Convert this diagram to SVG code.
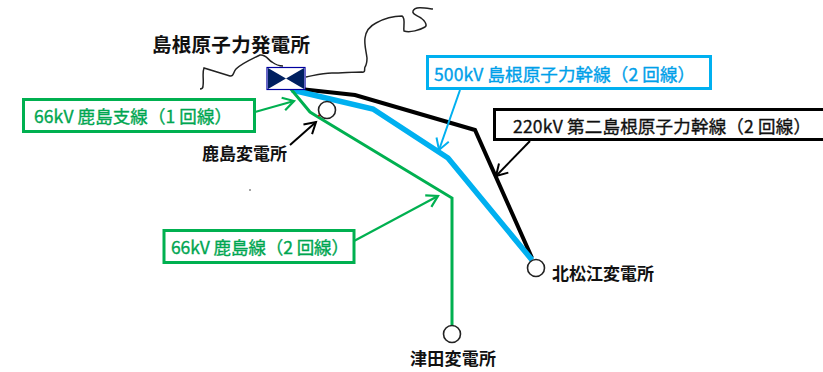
<svg xmlns="http://www.w3.org/2000/svg" width="823" height="372" viewBox="0 0 823 372">
<style>
text{font-family:"Noto Sans CJK JP","Liberation Sans",sans-serif;dominant-baseline:central}
.n{font-weight:700;font-size:17px;fill:#111}
.l{font-size:17.500px;stroke-width:.35}
.box{fill:#fff;stroke-width:3}
.g{stroke:#00B050;fill:none}
.bl{stroke:#00B0F0;fill:none}
.k{stroke:#000;fill:none}
.st{fill:#fff;stroke:#222;stroke-width:1.6}
</style>
<defs>
<marker id="ag" markerUnits="userSpaceOnUse" markerWidth="18" markerHeight="18" refX="15" refY="9" orient="auto"><path d="M4 2.500L15 9L4 15.500" fill="none" stroke="#00B050" stroke-width="2.200"/></marker>
<marker id="ab" markerUnits="userSpaceOnUse" markerWidth="18" markerHeight="18" refX="15" refY="9" orient="auto"><path d="M4 2.500L15 9L4 15.500" fill="none" stroke="#00B0F0" stroke-width="2"/></marker>
<marker id="ak" markerUnits="userSpaceOnUse" markerWidth="18" markerHeight="18" refX="15" refY="9" orient="auto"><path d="M4 2.500L15 9L4 15.500" fill="none" stroke="#000" stroke-width="2"/></marker>
</defs>
<g id="coast" fill="none" stroke="#222" stroke-width="1.500">
<path d="M200 89C202 89 203 88 203 86C204 80 202 73 204 68L230 76C234 77 233 72 236 69C242 63 252 59 260 55C266 54 268 60 272 62C276 65 280 66 283 66"/>
<path d="M306 77C316 75 322 73 332 73C342 73 352 72 362 72C366 73 364 68 365 67C367 64 367 62 367 58C366 50 364 44 365 38C366 30 370 26 376 23C385 18 395 16 402 16C406 18 403 28 404 31C410 33 420 30 425 27C428 25 424 20 421 18C416 15 412 14 413 11C415 6 425 8 433 9"/>
</g>
<g id="connectors">
<path class="k" stroke-width="4" d="M300 89L355 95L475 130L532 258"/>
<path class="bl" stroke-width="5.500" d="M292 90L373 109L448 158L532 260"/>
<path class="g" stroke-width="3" d="M290 88L300 100L310 112L318 117L452 198L452 327"/>
<path class="g" stroke-width="2.200" d="M255 112L294 101" marker-end="url(#ag)"/>
<path class="g" stroke-width="2.200" d="M354 241L438 196" marker-end="url(#ag)"/>
<path class="bl" stroke-width="2" d="M460 90L439 150" marker-end="url(#ab)"/>
<path class="k" stroke-width="2" d="M530 141L496 176" marker-end="url(#ak)"/>
<path class="k" stroke-width="2" d="M290 145L316 122" marker-end="url(#ak)"/>
</g>
<g id="plant">
<rect x="267" y="67.500" width="38" height="22" fill="#fff" stroke="#0000A0" stroke-width="1.200"/>
<path d="M268 68L286 78.500L268 89ZM304 68L286 78.500L304 89Z" fill="#002060"/>
<text class="n" x="152" y="43" style="font-size:19.500px" textLength="158">島根原子力発電所</text>
</g>
<g id="kashima-ss"><circle class="st" cx="327" cy="110" r="8.500"/><circle cx="319" cy="115.500" r="1" fill="#C00000"/><text class="n" x="202" y="152" textLength="85">鹿島変電所</text></g>
<g id="kitamatsue-ss"><circle class="st" cx="536" cy="268" r="8.500"/><text class="n" x="552" y="272" textLength="102">北松江変電所</text></g>
<g id="tsuda-ss"><circle class="st" cx="452" cy="334" r="8.500"/><text class="n" x="410" y="357" textLength="86">津田変電所</text></g>
<g id="label-66-branch"><rect class="box g" x="23.500" y="99.500" width="231" height="32"/><text class="l" x="34" y="115" fill="#00A651" stroke="#00A651" textLength="198">66kV 鹿島支線（1 回線）</text></g>
<g id="label-66"><rect class="box g" x="164" y="230.500" width="190" height="32"/><text class="l" x="171" y="246" fill="#00A651" stroke="#00A651" textLength="178">66kV 鹿島線（2 回線）</text></g>
<g id="label-500"><rect class="box bl" x="427.500" y="56.500" width="283" height="32"/><text class="l" x="434" y="73" fill="#00A0E9" stroke="#00A0E9" textLength="261">500kV 島根原子力幹線（2 回線）</text></g>
<g id="label-220"><rect class="box k" x="494.500" y="109.500" width="340" height="30"/><text class="l" x="513" y="125" fill="#111" stroke="#111" textLength="298">220kV 第二島根原子力幹線（2 回線）</text></g>
<circle cx="250" cy="190" r="0.800" fill="#333"/>
</svg>
